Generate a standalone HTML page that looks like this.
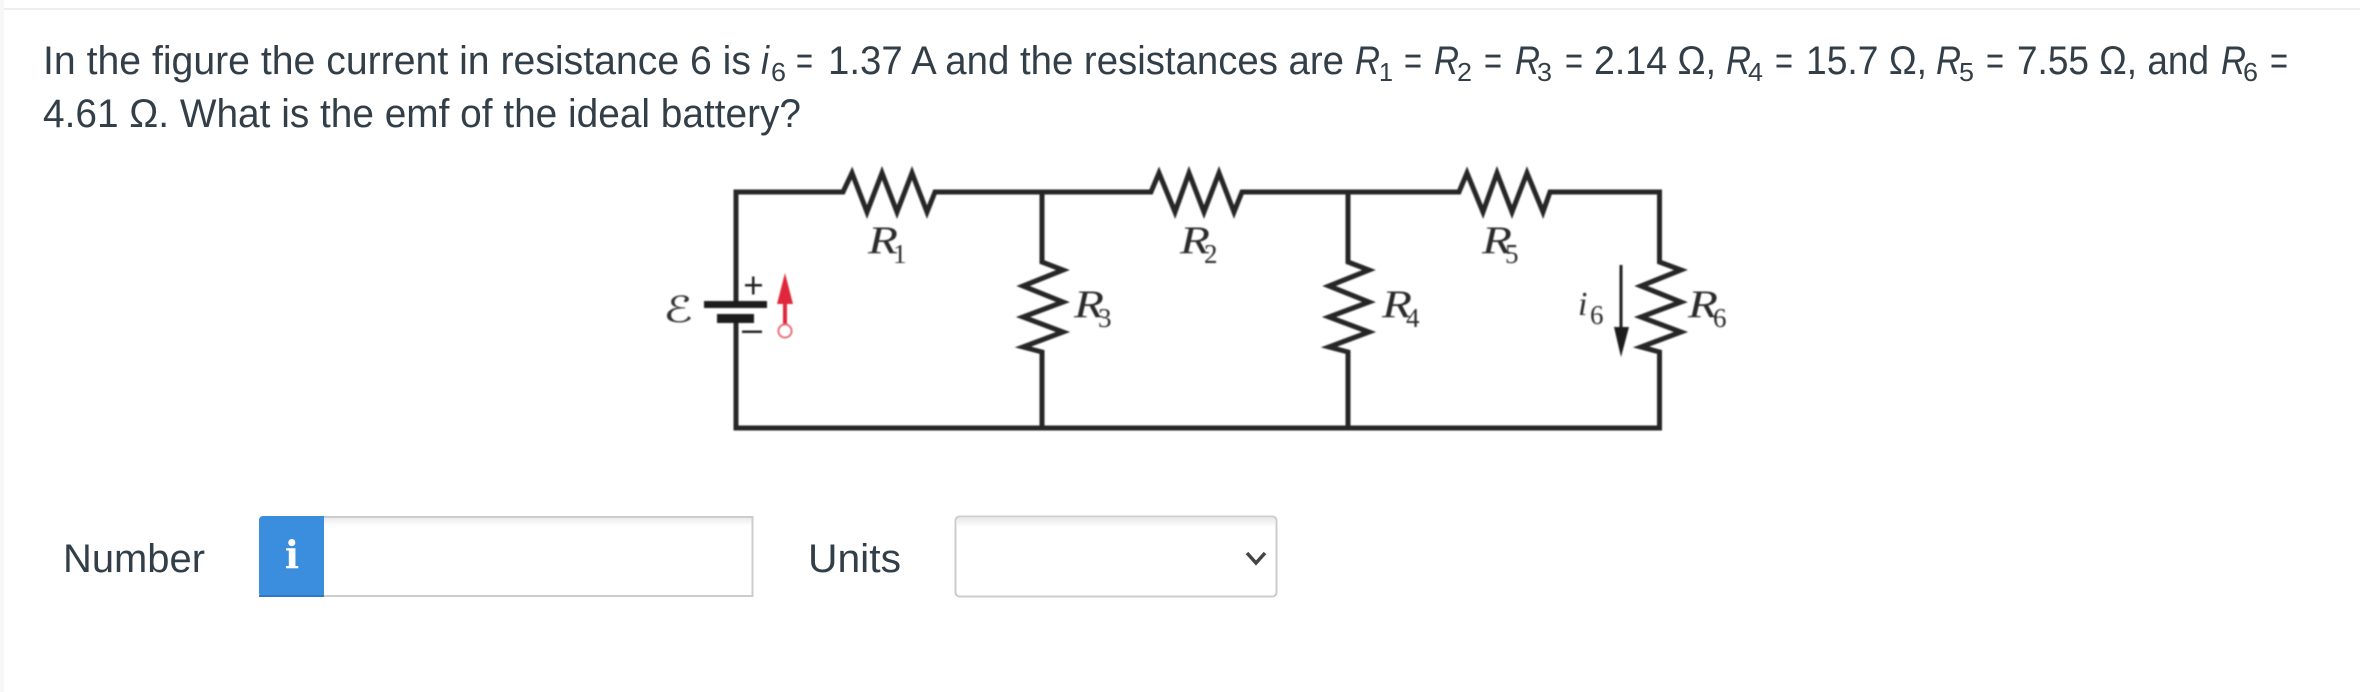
<!DOCTYPE html>
<html><head><meta charset="utf-8"><style>
html,body{margin:0;padding:0;background:#fff;width:2360px;height:692px;overflow:hidden}
svg{display:block}
.t{font-family:"Liberation Sans",sans-serif;font-size:40px;fill:#333f48}
.s{font-family:"Liberation Sans",sans-serif;font-size:26px;fill:#333f48}
.i{font-style:italic}
.m{font-family:"Liberation Serif",serif;font-size:39px;font-style:italic;fill:#2a2a2a}
.n{font-family:"Liberation Serif",serif;font-size:27px;fill:#2a2a2a}
.w{fill:none;stroke:#262626;stroke-width:5;stroke-linejoin:miter}
</style></head><body>
<svg width="2360" height="692" viewBox="0 0 2360 692" xmlns="http://www.w3.org/2000/svg">
<defs><filter id="b" x="-5%" y="-5%" width="110%" height="110%"><feGaussianBlur stdDeviation="0.7"/></filter>
<linearGradient id="g" x1="0" y1="0" x2="0" y2="1"><stop offset="0" stop-color="#e8e8e8"/><stop offset="1" stop-color="#fff"/></linearGradient></defs>
<rect x="0" y="0" width="2360" height="692" fill="#fff"/>
<rect x="0" y="0" width="4" height="692" fill="#f7f7f7"/>
<rect x="4" y="8" width="2356" height="2" fill="#eeeeee"/>

<text class="t" x="43" y="74" textLength="708" lengthAdjust="spacingAndGlyphs">In the figure the current in resistance 6 is</text>
<text class="t i" x="761" y="74" textLength="8" lengthAdjust="spacingAndGlyphs">i</text>
<text class="s" x="771" y="81" textLength="15" lengthAdjust="spacingAndGlyphs">6</text>
<text class="t" x="796" y="74" textLength="17" lengthAdjust="spacingAndGlyphs">=</text>
<text class="t" x="828" y="74" textLength="516" lengthAdjust="spacingAndGlyphs">1.37 A and the resistances are</text>
<text class="t i" x="1355" y="74" textLength="25" lengthAdjust="spacingAndGlyphs">R</text>
<text class="s" x="1379" y="81" textLength="14" lengthAdjust="spacingAndGlyphs">1</text>
<text class="t" x="1404" y="74" textLength="18" lengthAdjust="spacingAndGlyphs">=</text>
<text class="t i" x="1434" y="74" textLength="25" lengthAdjust="spacingAndGlyphs">R</text>
<text class="s" x="1457" y="81" textLength="15" lengthAdjust="spacingAndGlyphs">2</text>
<text class="t" x="1484" y="74" textLength="18" lengthAdjust="spacingAndGlyphs">=</text>
<text class="t i" x="1515" y="74" textLength="25" lengthAdjust="spacingAndGlyphs">R</text>
<text class="s" x="1537" y="81" textLength="15" lengthAdjust="spacingAndGlyphs">3</text>
<text class="t" x="1565" y="74" textLength="18" lengthAdjust="spacingAndGlyphs">=</text>
<text class="t" x="1594" y="74" textLength="122" lengthAdjust="spacingAndGlyphs">2.14 Ω,</text>
<text class="t i" x="1726" y="74" textLength="25" lengthAdjust="spacingAndGlyphs">R</text>
<text class="s" x="1748" y="81" textLength="15" lengthAdjust="spacingAndGlyphs">4</text>
<text class="t" x="1775" y="74" textLength="18" lengthAdjust="spacingAndGlyphs">=</text>
<text class="t" x="1806" y="74" textLength="121" lengthAdjust="spacingAndGlyphs">15.7 Ω,</text>
<text class="t i" x="1936" y="74" textLength="25" lengthAdjust="spacingAndGlyphs">R</text>
<text class="s" x="1959" y="81" textLength="15" lengthAdjust="spacingAndGlyphs">5</text>
<text class="t" x="1986" y="74" textLength="18" lengthAdjust="spacingAndGlyphs">=</text>
<text class="t" x="2017" y="74" textLength="192" lengthAdjust="spacingAndGlyphs">7.55 Ω, and</text>
<text class="t i" x="2221" y="74" textLength="25" lengthAdjust="spacingAndGlyphs">R</text>
<text class="s" x="2243" y="81" textLength="15" lengthAdjust="spacingAndGlyphs">6</text>
<text class="t" x="2270" y="74" textLength="18" lengthAdjust="spacingAndGlyphs">=</text>
<text class="t" x="43" y="127" textLength="758" lengthAdjust="spacingAndGlyphs">4.61 Ω. What is the emf of the ideal battery?</text>

<g filter="url(#b)">
<path class="w" d="M736 301V192H843L852 173L867 212L882 173L897 212L912 173L927 212L935 192H1151L1159 173L1175 212L1189 173L1204 212L1219 173L1234 212L1242 192H1459L1467 173L1483 212L1497 173L1512 212L1527 173L1543 212L1550 192H1659.5V262L1681 270L1641 286L1681 302L1641 317L1681 332L1641 347L1659.5 352V428H736V323"/>
<path class="w" d="M1042 192V262L1063 270L1023 286L1063 302L1023 317L1063 332L1023 347L1042 352V428"/>
<path class="w" d="M1348 192V262L1369 270L1329 286L1369 302L1329 317L1369 332L1329 347L1348 352V428"/>
<rect x="704" y="301" width="63" height="7" fill="#1c1c1c"/>
<rect x="717" y="314" width="37" height="9" fill="#1c1c1c"/>
<rect x="745" y="284" width="17" height="2.5" fill="#222"/><rect x="752" y="276.500" width="2.500" height="18" fill="#222"/>
<rect x="742" y="330.500" width="20" height="2.500" fill="#222"/>
<path d="M785 273L793 304H787V325H783V304H777Z" fill="#e0283a"/>
<circle cx="785" cy="331" r="6.500" fill="#fff" stroke="#e4606c" stroke-width="2"/>
<path d="M1619.500 265H1622.500V327H1629L1621 357L1614 327H1619.500Z" fill="#1c1c1c"/>
<text x="663" y="322" font-family="'DejaVu Sans',serif" font-size="36" font-style="italic" fill="#333" textLength="30" lengthAdjust="spacingAndGlyphs">ℰ</text>
<text class="m" x="868" y="253" textLength="30" lengthAdjust="spacingAndGlyphs">R</text><text class="n" x="893" y="263">1</text>
<text class="m" x="1180" y="253" textLength="30" lengthAdjust="spacingAndGlyphs">R</text><text class="n" x="1204" y="263">2</text>
<text class="m" x="1482" y="253" textLength="30" lengthAdjust="spacingAndGlyphs">R</text><text class="n" x="1505" y="263">5</text>
<text class="m" x="1074" y="317" textLength="30" lengthAdjust="spacingAndGlyphs">R</text><text class="n" x="1098" y="327">3</text>
<text class="m" x="1382" y="317" textLength="30" lengthAdjust="spacingAndGlyphs">R</text><text class="n" x="1406" y="327">4</text>
<text class="m" x="1688" y="317" textLength="30" lengthAdjust="spacingAndGlyphs">R</text><text class="n" x="1713" y="327">6</text>
<text class="m" x="1578" y="315" style="font-size:34px">i</text><text class="n" x="1590" y="324">6</text>
</g>

<text class="t" x="63" y="572" textLength="142" lengthAdjust="spacingAndGlyphs">Number</text>
<rect x="324" y="516" width="429" height="81" fill="#fff"/>
<rect x="324" y="516" width="429" height="10" fill="url(#g)"/>
<path d="M324 517H753M752.500 516V597M324 596H753" fill="none" stroke="#cccccc" stroke-width="2"/>
<path d="M259 520a4 4 0 0 1 4-4H324V597H263a4 4 0 0 1-4-4Z" fill="#3b8ede"/>
<rect x="259" y="595" width="65" height="2" fill="#2f78c4"/>
<text x="292" y="568" text-anchor="middle" font-family="'DejaVu Serif',serif" font-weight="bold" font-size="38" fill="#fff">i</text>
<text class="t" x="808" y="572" textLength="93" lengthAdjust="spacingAndGlyphs">Units</text>
<rect x="955.500" y="516.500" width="321" height="80" rx="4" fill="#fff" stroke="#cccccc" stroke-width="2"/>
<rect x="957" y="518" width="318" height="9" fill="url(#g)"/>
<path d="M1247 553L1256 563L1265 553" fill="none" stroke="#444" stroke-width="3.500"/>
</svg>
</body></html>
